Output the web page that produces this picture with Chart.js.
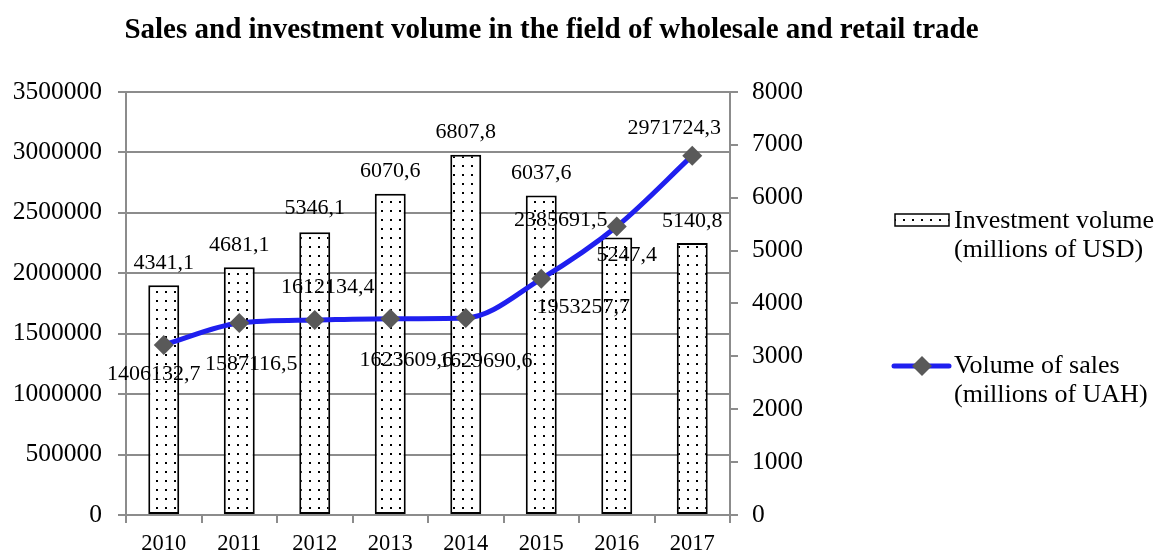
<!DOCTYPE html>
<html><head><meta charset="utf-8">
<script src="https://cdn.jsdelivr.net/npm/chart.js@4.4.1/dist/chart.umd.min.js"></script>
<style>html,body{margin:0;padding:0;background:#fff;}canvas{display:block;}</style>
</head><body>
<canvas id="c" width="1161" height="553"></canvas>
<script>
const categories = ['2010', '2011', '2012', '2013', '2014', '2015', '2016', '2017'];
const investmentVolume = [4341.1, 4681.1, 5346.1, 6070.6, 6807.8, 6037.6, 5247.4, 5140.8];
const salesVolume = [1406132.7, 1587116.5, 1612134.4, 1623609.6, 1629690.6, 1953257.7, 2385691.5, 2971724.3];
const investmentLabel = ['Investment volume', '(millions of USD)'];
const salesLabel = ['Volume of sales', '(millions of UAH)'];
const chartTitle = 'Sales and investment volume in the field of wholesale and retail trade';

// label offsets (style/placement, not data)
const barLabelOffsets = [[0,-22],[0,-22],[0,-24],[0,-23],[0,-23],[0,-22],[10,18],[0,-22]];
const lineLabelOffsets = [[-10,29],[12,41],[13,-33],[16,42],[20,43],[42,28],[-56,-6],[-18,-27]];

const SERIF = '"Liberation Serif", "Times New Roman", serif';
const GRAY = '#8c8c8c';

function makePattern() {
  const p = document.createElement('canvas');
  p.width = 9; p.height = 9;
  const g = p.getContext('2d');
  g.fillStyle = '#fff'; g.fillRect(0, 0, 9, 9);
  g.fillStyle = '#000';
  g.fillRect(3, 3, 2, 2);
  return document.getElementById('c').getContext('2d').createPattern(p, 'repeat');
}
const dotPattern = makePattern();

function fmt(v) { return v.toFixed(1).replace('.', ','); }

const valueLabels = {
  id: 'valueLabels',
  afterDatasetsDraw(chart) {
    const ctx = chart.ctx;
    ctx.save();
    ctx.font = '22px ' + SERIF;
    ctx.fillStyle = '#000';
    ctx.textAlign = 'center';
    ctx.textBaseline = 'middle';
    chart.data.datasets.forEach((ds, di) => {
      const meta = chart.getDatasetMeta(di);
      const offs = ds.labelOffsets;
      meta.data.forEach((el, i) => {
        ctx.fillText(fmt(ds.data[i]), el.x + offs[i][0], el.y + offs[i][1]);
      });
    });
    ctx.restore();
  }
};

const customLegend = {
  id: 'customLegend',
  afterDraw(chart) {
    const ctx = chart.ctx;
    ctx.save();
    // bar swatch
    ctx.fillStyle = dotPattern;
    ctx.fillRect(895, 214, 54, 12);
    ctx.strokeStyle = '#000'; ctx.lineWidth = 1.5;
    ctx.strokeRect(895, 214, 54, 12);
    // line swatch
    ctx.strokeStyle = '#1f1fef'; ctx.lineWidth = 5; ctx.lineCap = 'round';
    ctx.beginPath(); ctx.moveTo(894, 366); ctx.lineTo(949, 366); ctx.stroke();
    ctx.fillStyle = '#595959';
    ctx.beginPath();
    ctx.moveTo(922 - 10, 366); ctx.lineTo(922, 356); ctx.lineTo(922 + 10, 366); ctx.lineTo(922, 376);
    ctx.closePath(); ctx.fill();
    // texts
    ctx.fillStyle = '#000';
    ctx.font = '26px ' + SERIF;
    ctx.textAlign = 'left'; ctx.textBaseline = 'middle';
    const d = chart.data.datasets;
    d[1].label.forEach((t, i) => ctx.fillText(t, 954, 221 + i * 29));
    d[0].label.forEach((t, i) => ctx.fillText(t, 954, 366 + i * 29));
    ctx.restore();
  }
};

new Chart(document.getElementById('c'), {
  data: {
    labels: categories,
    datasets: [
      {
        type: 'line',
        label: salesLabel,
        data: salesVolume,
        yAxisID: 'y',
        order: 0,
        borderColor: '#1f1fef',
        borderWidth: 5,
        cubicInterpolationMode: 'monotone',
        pointStyle: 'rectRot',
        pointRadius: 10,
        pointBackgroundColor: '#595959',
        pointBorderColor: '#595959',
        pointBorderWidth: 0,
        labelOffsets: lineLabelOffsets
      },
      {
        type: 'bar',
        label: investmentLabel,
        data: investmentVolume,
        yAxisID: 'y1',
        order: 1,
        backgroundColor: dotPattern,
        borderColor: '#000',
        borderWidth: 2,
        borderSkipped: false,
        categoryPercentage: 1,
        barPercentage: 0.41,
        labelOffsets: barLabelOffsets
      }
    ]
  },
  options: {
    responsive: false,
    animation: false,
    layout: { padding: { left: 0, right: 58, top: 0, bottom: 0 } },
    plugins: {
      legend: { display: false },
      tooltip: { enabled: false },
      title: {
        display: true,
        text: chartTitle,
        color: '#000',
        font: { family: SERIF, size: 29, weight: 'bold', lineHeight: 1.2 },
        padding: { top: 13, bottom: 44 }
      }
    },
    scales: {
      x: {
        offset: true,
        grid: { offset: true, drawOnChartArea: false, drawTicks: true, tickLength: 8, color: GRAY, lineWidth: 2 },
        border: { color: GRAY, width: 2 },
        ticks: { color: '#000', font: { family: SERIF, size: 22.5 }, padding: 8, maxRotation: 0 },
        afterFit(s) { s.height = 38; }
      },
      y: {
        position: 'left',
        min: 0, max: 3500000,
        ticks: { stepSize: 500000, color: '#000', font: { family: SERIF, size: 25.5 }, padding: 16,
          callback: (v) => String(v) },
        grid: { color: GRAY, lineWidth: 2, tickLength: 8 },
        border: { color: GRAY, width: 2 },
        afterFit(s) { s.width = 126; }
      },
      y1: {
        position: 'right',
        min: 0, max: 8000,
        ticks: { stepSize: 1000, color: '#000', font: { family: SERIF, size: 25.5 }, padding: 14,
          callback: (v) => String(v) },
        grid: { drawOnChartArea: false, color: GRAY, lineWidth: 2, tickLength: 8 },
        border: { color: GRAY, width: 2 },
        afterFit(s) { s.width = 373; }
      }
    }
  },
  plugins: [valueLabels, customLegend]
});
</script>
</body></html>
